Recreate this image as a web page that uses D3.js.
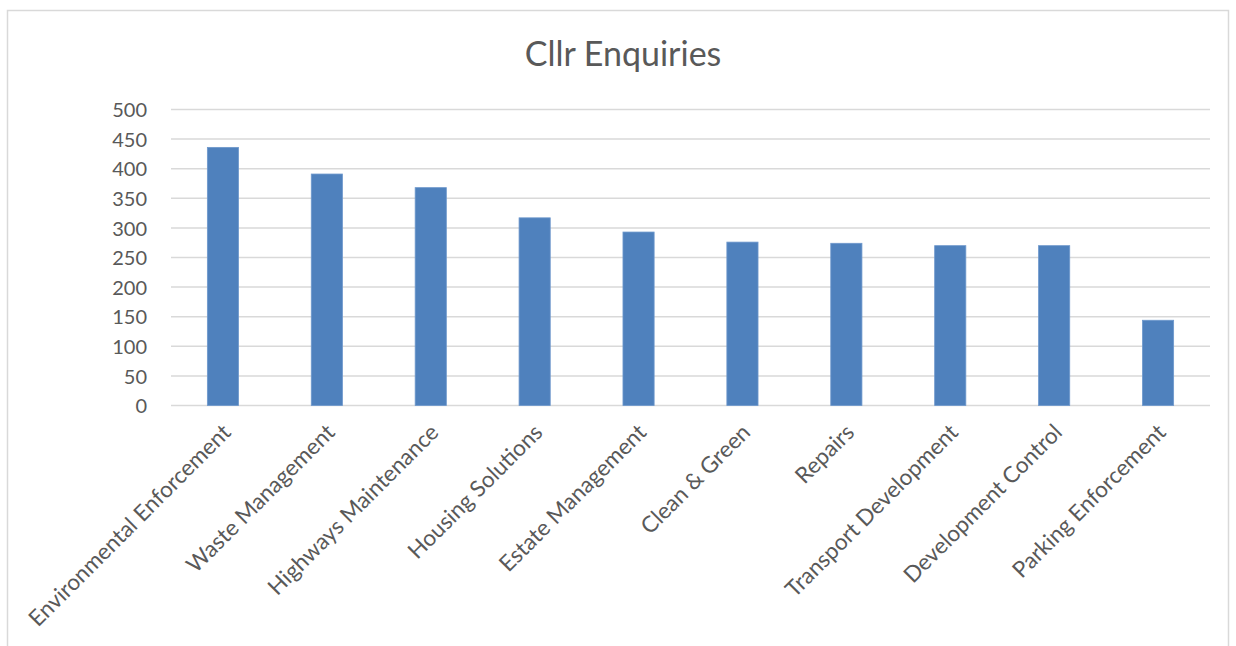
<!DOCTYPE html>
<html><head><meta charset="utf-8">
<script src="https://cdn.jsdelivr.net/npm/d3@7"></script>
<style>body{margin:0;background:#fff;}svg{display:block;}</style>
</head><body>
<script>
const categories = ["Environmental Enforcement","Waste Management","Highways Maintenance","Housing Solutions","Estate Management","Clean & Green","Repairs","Transport Development","Development Control","Parking Enforcement"];
const values = [436, 391, 368, 317, 293, 276, 274, 270, 270, 144];
const yTicks = [0,50,100,150,200,250,300,350,400,450,500];
const title = "Cllr Enquiries";

const W = 1236, H = 646;
const font = "Lato, 'Open Sans', sans-serif";
const svg = d3.select("body").append("svg").attr("width", W).attr("height", H);
svg.append("rect").attr("width", W).attr("height", H).attr("fill", "#fff");
svg.append("rect").attr("x", 7.5).attr("y", 10.5).attr("width", 1221).attr("height", 700)
  .attr("fill", "none").attr("stroke", "#D9D9D9").attr("stroke-width", 1.5);

const x = d3.scaleBand().domain(categories).range([171, 1210]).paddingInner(0.7).paddingOuter(0.35);
const y = d3.scaleLinear().domain([0, 500]).range([405.5, 109.5]);

svg.append("text").attr("x", 623).attr("y", 66).attr("text-anchor", "middle")
  .attr("font-family", font).attr("font-size", 34).attr("fill", "#595959").text(title);

// gridlines
svg.append("g").selectAll("line").data(yTicks).join("line")
  .attr("x1", 171).attr("x2", 1210).attr("y1", d => y(d)).attr("y2", d => y(d))
  .attr("stroke", "#D9D9D9").attr("stroke-width", 1.5);

// y axis
const yAxis = svg.append("g").attr("transform", "translate(147,0)")
  .call(d3.axisLeft(y).tickValues(yTicks).tickSize(0).tickPadding(0));
yAxis.select(".domain").remove();
yAxis.selectAll("text").attr("font-family", font).attr("font-size", 20).attr("fill", "#595959").attr("dy", "0.36em");

// bars
svg.append("g").selectAll("rect").data(values).join("rect")
  .attr("x", (d, i) => x(categories[i])).attr("width", x.bandwidth())
  .attr("y", d => y(d)).attr("height", d => y(0) - y(d))
  .attr("fill", "#4F81BD").attr("stroke", "#6E98CC").attr("stroke-width", 0.8);

// x axis labels
const xAxis = svg.append("g").attr("transform", `translate(0,${y(0)})`)
  .call(d3.axisBottom(x).tickSize(0));
xAxis.select(".domain").remove();
xAxis.selectAll("text")
  .attr("font-family", font).attr("font-size", 22.5).attr("fill", "#595959")
  .attr("text-anchor", "end").attr("dy", "0.7em")
  .attr("transform", "translate(-4,15) rotate(-45)");
</script>
</body></html>
